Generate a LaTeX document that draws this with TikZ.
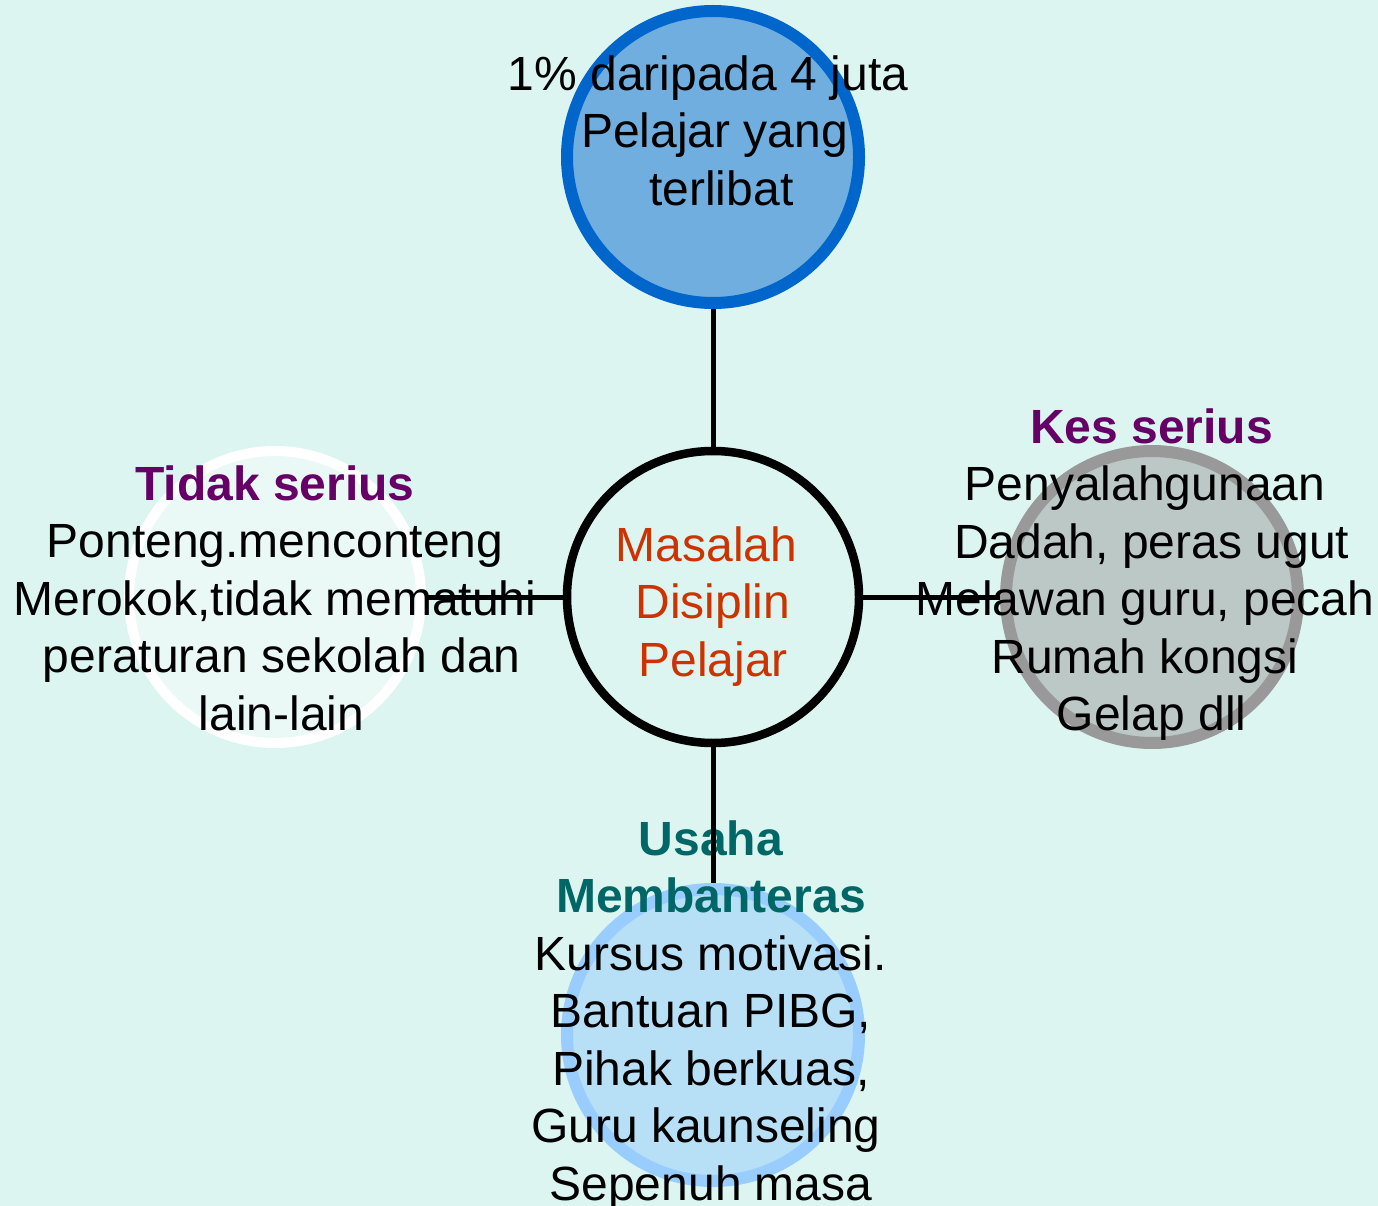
\documentclass[tikz,border=0pt]{standalone}
\usepackage{fontspec}
\setmainfont{Liberation Sans}
\definecolor{bg}{HTML}{DDF5F1}
\definecolor{topfill}{HTML}{6FAEDF}
\definecolor{topline}{HTML}{0066CC}
\definecolor{leftfill}{HTML}{EBF9F6}
\definecolor{rightfill}{HTML}{BBC8C5}
\definecolor{rightline}{HTML}{999999}
\definecolor{botfill}{HTML}{B7E0F6}
\definecolor{botline}{HTML}{99CCFF}
\definecolor{titlepurple}{HTML}{660066}
\definecolor{titleteal}{HTML}{006666}
\definecolor{centertext}{HTML}{CC3300}
\begin{document}
\begin{tikzpicture}[x=1pt,y=-1pt,
  bubble/.style={circle, minimum size=292pt, inner sep=0pt, line width=12pt},
  txt/.style={align=center, inner sep=0pt, anchor=north, font=\fontsize{48}{57.5}\selectfont},
  conn/.style={line width=5pt, black}]
\fill[bg] (0,0) rectangle (1378,1206);
\useasboundingbox (0,0) rectangle (1378,1206);
% circles
\node[bubble, fill=topfill, draw=topline] (t) at (713,157) {};
\node[bubble, fill=leftfill, draw=white, line width=10pt] (l) at (275,597) {};
\node[bubble, fill=rightfill, draw=rightline] (r) at (1152,597) {};
\node[bubble, fill=botfill, draw=botline] (b) at (713,1035) {};
\node[bubble, fill=bg, draw=black, line width=8.5pt] (c) at (713,597) {};
% texts
\node[txt] (ttext) at (708,49.75) {\strut 1\% daripada 4 juta\\\ Pelajar yang\\\ \ terlibat};
\node[txt, text=centertext] (ctext) at (713,520.75) {\strut Masalah\kern13pt\\Disiplin\\Pelajar};
\node[txt] (ltext) at (275,459.75) {\strut\textcolor{titlepurple}{\textbf{Tidak serius}}\\Ponteng.menconteng\\Merokok,tidak mematuhi\\\ peraturan sekolah dan\\\ lain-lain};
\node[txt] (rtext) at (1145,402.75) {\strut\textcolor{titlepurple}{\textbf{\ Kes serius}}\\Penyalahgunaan\\\ Dadah, peras ugut\\Melawan guru, pecah\\Rumah kongsi\\\ Gelap dll};
\node[txt] (btext) at (711,814.75) {\strut\textcolor{titleteal}{\textbf{Usaha}}\\\textcolor{titleteal}{\textbf{Membanteras}}\\Kursus motivasi.\\Bantuan PIBG,\\Pihak berkuas,\\Guru kaunseling\kern10pt\\Sepenuh masa};
% connectors
\draw[conn] (t) -- (c);
\draw[conn] (c) -- (l);
\draw[conn] (c) -- (r);
\draw[conn] (c) -- (b);
\end{tikzpicture}
\end{document}
